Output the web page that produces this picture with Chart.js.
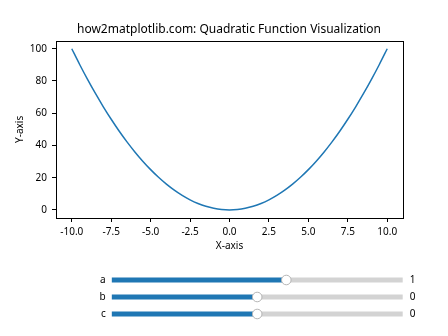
<!DOCTYPE html>
<html>
<head>
<meta charset="utf-8">
<script src="https://cdn.jsdelivr.net/npm/chart.js@4/dist/chart.umd.min.js"></script>
<style>
  body { margin: 0; background: #fff; }
  #wrap { position: relative; width: 448px; height: 336px; }
  #plot { position: absolute; left: 0; top: 0; }
  #sliders { position: absolute; left: 0; top: 265px; }
</style>
</head>
<body>
<div id="wrap">
  <canvas id="plot" width="448" height="265"></canvas>
  <canvas id="sliders" width="448" height="71"></canvas>
</div>
<script>
// curve y = a*x^2 + b*x + c with a=1, b=0, c=0
const xValues = [-10, -9.5, -9, -8.5, -8, -7.5, -7, -6.5, -6, -5.5, -5, -4.5, -4, -3.5, -3, -2.5, -2, -1.5, -1, -0.5,
  0, 0.5, 1, 1.5, 2, 2.5, 3, 3.5, 4, 4.5, 5, 5.5, 6, 6.5, 7, 7.5, 8, 8.5, 9, 9.5, 10];
const yValues = [100, 90.25, 81, 72.25, 64, 56.25, 49, 42.25, 36, 30.25, 25, 20.25, 16, 12.25, 9, 6.25, 4, 2.25, 1, 0.25,
  0, 0.25, 1, 2.25, 4, 6.25, 9, 12.25, 16, 20.25, 25, 30.25, 36, 42.25, 49, 56.25, 64, 72.25, 81, 90.25, 100];
const xTicks = [-10, -7.5, -5, -2.5, 0, 2.5, 5, 7.5, 10];
const yTicks = [0, 20, 40, 60, 80, 100];

// sliders under the plot
const sliderNames = ['a', 'b', 'c'];
const sliderValues = [1, 0, 0];
const sliderMin = -5;
const sliderMax = 5;

const FONT = "'Noto Sans', sans-serif";
Chart.defaults.font.family = FONT;
Chart.defaults.color = '#000';

const frame = {
  id: 'frame',
  afterDraw(chart) {
    const a = chart.chartArea;
    const c = chart.ctx;
    c.save();
    c.strokeStyle = '#000';
    c.lineWidth = 1;
    c.strokeRect(Math.round(a.left) + 0.5, Math.round(a.top) + 0.5,
      Math.round(a.right - a.left), Math.round(a.bottom - a.top));
    c.restore();
  }
};

// fixed size for an axis, and no extra room asked for its end labels
const fixW = w => s => { s.width = w; s.paddingTop = 0; s.paddingBottom = 0; };

new Chart(document.getElementById('plot'), {
  type: 'line',
  data: {
    datasets: [{
      data: xValues.map((x, i) => ({ x: x, y: yValues[i] })),
      borderColor: '#1f77b4',
      borderWidth: 1.5,
      pointRadius: 0,
      tension: 0.3,
      fill: false
    }]
  },
  options: {
    responsive: false,
    animation: false,
    layout: { padding: { left: 10, right: 0, top: 0, bottom: 0 } },
    plugins: {
      legend: { display: false },
      tooltip: { enabled: false },
      title: {
        display: true,
        text: 'how2matplotlib.com: Quadratic Function Visualization',
        font: { size: 12, weight: 'normal' },
        color: '#000',
        padding: { top: 22, bottom: 4.3 }
      }
    },
    scales: {
      x: {
        type: 'linear',
        min: -11,
        max: 11,
        afterBuildTicks: s => { s.ticks = xTicks.map(v => ({ value: v })); },
        afterFit: s => { s.height = 47; },
        ticks: { font: { size: 10 }, padding: 4.5, maxRotation: 0, callback: v => v.toFixed(1) },
        grid: { drawOnChartArea: false, drawTicks: true, tickLength: 4, tickColor: '#000' },
        border: { display: false },
        title: { display: true, text: 'X-axis', font: { size: 10 }, padding: { top: 0, bottom: 13 } }
      },
      y: {
        type: 'linear',
        min: -5,
        max: 105,
        afterBuildTicks: s => { s.ticks = yTicks.map(v => ({ value: v })); },
        afterFit: fixW(46),
        ticks: { font: { size: 10 }, padding: 5 },
        grid: { drawOnChartArea: false, drawTicks: true, tickLength: 4, tickColor: '#000' },
        border: { display: false },
        title: { display: true, text: 'Y-axis', font: { size: 10 }, padding: { top: 4, bottom: 0 } }
      },
      // empty right-hand strip so the title centres over the axes
      yr: {
        type: 'linear',
        position: 'right',
        afterFit: fixW(45),
        ticks: { display: false },
        grid: { display: false },
        border: { display: false }
      }
    }
  },
  plugins: [frame]
});

new Chart(document.getElementById('sliders'), {
  type: 'bar',
  data: {
    labels: sliderNames,
    datasets: [
      {
        type: 'scatter',
        data: sliderNames.map((n, i) => ({ x: sliderValues[i], y: n })),
        pointRadius: 4.8,
        pointBackgroundColor: '#fff',
        pointBorderColor: '#b5b5b5',
        pointBorderWidth: 1
      },
      {
        data: sliderValues.map(v => [sliderMin, v]),
        backgroundColor: '#1f77b4',
        barThickness: 4.5,
        grouped: false
      },
      {
        data: sliderValues.map(v => [v, sliderMax]),
        backgroundColor: '#d3d3d3',
        barThickness: 4.5,
        grouped: false
      }
    ]
  },
  options: {
    indexAxis: 'y',
    responsive: false,
    animation: false,
    layout: { padding: { left: 0, right: 0, top: 6.5, bottom: 13.5 } },
    plugins: { legend: { display: false }, tooltip: { enabled: false } },
    scales: {
      x: { type: 'linear', min: sliderMin, max: sliderMax, display: false },
      y: {
        type: 'category',
        afterFit: fixW(111.7),
        ticks: { font: { size: 10 }, padding: 6, autoSkip: false },
        grid: { display: false, drawTicks: false },
        border: { display: false }
      },
      y2: {
        type: 'category',
        position: 'right',
        labels: sliderValues.map(String),
        afterFit: fixW(45.3),
        ticks: { font: { size: 10 }, padding: 7, autoSkip: false },
        grid: { display: false, drawTicks: false },
        border: { display: false }
      }
    }
  }
});
</script>
</body>
</html>
